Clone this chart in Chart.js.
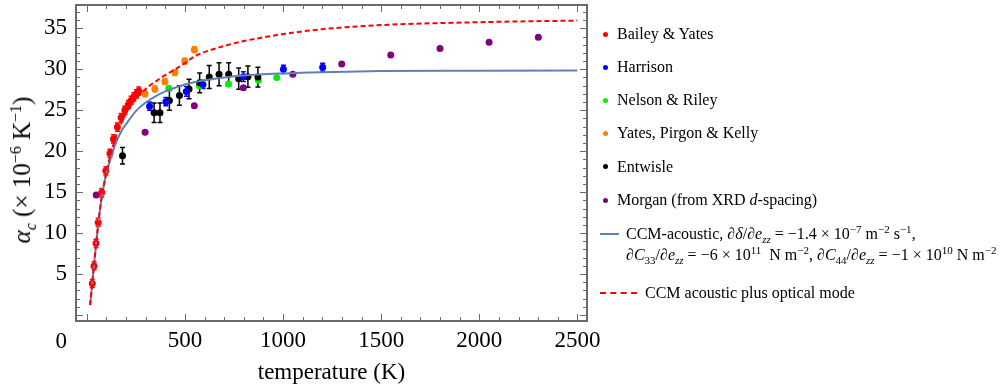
<!DOCTYPE html>
<html>
<head>
<meta charset="utf-8">
<script src="https://cdn.jsdelivr.net/npm/chart.js@4"></script>
<style>
body{margin:0;background:#fff;}
#wrap{position:relative;width:1006px;height:391px;font-family:"Liberation Serif","Times New Roman",serif;color:#000;}
#chart{position:absolute;left:0;top:0;}
.leg{position:absolute;font-size:16px;line-height:20px;white-space:nowrap;}
.dot{position:absolute;width:5px;height:5px;border-radius:50%;}
.ln{position:absolute;height:0;}
sup,sub{font-size:11px;line-height:0;}
#ytitle{position:absolute;left:22px;top:170px;font-size:25px;white-space:nowrap;transform:translate(-50%,-50%) rotate(-90deg);}
#ytitle sup,#ytitle sub{font-size:16px;}
</style>
</head>
<body>
<div id="wrap">
<canvas id="chart" width="1006" height="391"></canvas>
<div id="ytitle"><i>α</i><sub><i>c</i></sub> (× 10<sup>−6</sup> K<sup>−1</sup>)</div>

<div class="dot" style="left:603px;top:32px;background:#ff0000"></div>
<div class="leg" style="left:617px;top:24px">Bailey &amp; Yates</div>
<div class="dot" style="left:603px;top:65px;background:#0000ff"></div>
<div class="leg" style="left:617px;top:57px">Harrison</div>
<div class="dot" style="left:603px;top:98px;background:#00ee00"></div>
<div class="leg" style="left:617px;top:90px">Nelson &amp; Riley</div>
<div class="dot" style="left:603px;top:131px;background:#ff8000"></div>
<div class="leg" style="left:617px;top:123px">Yates, Pirgon &amp; Kelly</div>
<div class="dot" style="left:603px;top:164px;background:#000000"></div>
<div class="leg" style="left:617px;top:157px">Entwisle</div>
<div class="dot" style="left:603px;top:198px;background:#800080"></div>
<div class="leg" style="left:617px;top:190px">Morgan (from XRD <i>d</i>-spacing)</div>

<div class="ln" style="left:600px;top:233px;width:19px;border-top:2px solid #5e81b5"></div>
<div class="leg" style="left:626px;top:224px">CCM-acoustic, <i>∂δ</i>/<i>∂e</i><sub><i>zz</i></sub> = −1.4 × 10<sup>−7</sup> m<sup>−2</sup> s<sup>−1</sup>,</div>
<div class="leg" style="left:626px;top:245px"><i>∂C</i><sub>33</sub>/<i>∂e</i><sub><i>zz</i></sub> = −6 × 10<sup>11</sup>&nbsp; N m<sup>−2</sup>, <i>∂C</i><sub>44</sub>/<i>∂e</i><sub><i>zz</i></sub> = −1 × 10<sup>10</sup> N m<sup>−2</sup></div>
<div class="ln" style="left:600px;top:292px;width:37px;border-top:2px dashed #ff0000"></div>
<div class="leg" style="left:645px;top:283px">CCM acoustic plus optical mode</div>
</div>

<script>
// Bailey & Yates
var byT = [28, 37, 47, 58, 76, 97, 118, 136, 156, 175, 194, 212, 226, 240, 253, 265];
var byV = [3.85, 6.0, 8.75, 11.3, 14.95, 17.6, 19.75, 21.5, 22.95, 24.1, 25.0, 25.7, 26.2, 26.65, 27.0, 27.35];
var byE = [0.5, 0.5, 0.5, 0.5, 0.5, 0.5, 0.5, 0.5, 0.5, 0.5, 0.5, 0.5, 0.5, 0.5, 0.5, 0.5];
// Harrison
var haT = [320, 403, 507, 592, 798, 1002, 1202];
var haV = [25.5, 26.05, 27.3, 28.15, 29.1, 30.0, 30.25];
var haE = [0.5, 0.5, 0.6, 0.5, 0.6, 0.5, 0.5];
// Nelson & Riley
var nrT = [418, 574, 722, 874, 968];
var nrV = [27.7, 28.0, 28.2, 28.65, 29.0];
// Yates, Pirgon & Kelly
var ypT = [297, 347, 398, 449, 499, 548];
var ypV = [27.0, 27.6, 28.5, 29.6, 31.0, 32.4];
var ypE = [0.35, 0.35, 0.35, 0.35, 0.35, 0.35];
// Entwisle
var enT = [182, 343, 373, 421, 472, 521, 575, 624, 674, 723, 774, 821, 872];
var enV = [19.45, 24.7, 24.7, 26.2, 26.8, 27.6, 28.35, 29.05, 29.4, 29.4, 28.85, 29.1, 29.05];
var enE = [1.0, 1.2, 1.2, 1.2, 1.2, 1.2, 1.2, 1.4, 1.4, 1.4, 1.3, 1.3, 1.2];
// Morgan (XRD)
var moT = [48, 297, 548, 798, 1050, 1299, 1549, 1800, 2050, 2301];
var moV = [14.65, 22.3, 25.55, 27.75, 29.4, 30.65, 31.75, 32.55, 33.3, 33.9];
// model curves
var ccmT = [17, 25, 35, 45, 55, 70, 85, 100, 125, 150, 175, 200, 250, 300, 350, 400, 450, 500, 600, 700, 800, 1000, 1200, 1500, 2000, 2500];
var ccmA = [1.2, 3.2, 5.6, 8.1, 10.4, 13.4, 15.6, 17.3, 19.4, 21.1, 22.4, 23.3, 24.9, 25.95, 26.7, 27.3, 27.75, 28.15, 28.65, 29.0, 29.25, 29.5, 29.65, 29.78, 29.83, 29.86];
var optT = [17, 25, 35, 45, 55, 70, 85, 100, 125, 150, 175, 200, 250, 300, 350, 400, 450, 500, 550, 600, 700, 800, 900, 1000, 1200, 1500, 2000, 2500];
var optA = [1.2, 3.2, 5.6, 8.1, 10.4, 13.4, 15.6, 17.4, 19.9, 21.9, 23.4, 24.6, 26.4, 27.6, 28.5, 29.3, 30.0, 30.75, 31.6, 32.1, 32.85, 33.45, 33.9, 34.3, 34.9, 35.4, 35.75, 35.95];

var xTicks = [0, 500, 1000, 1500, 2000, 2500];
var yTicks = [0, 5, 10, 15, 20, 25, 30, 35];

function pts(xs, ys) {
  var out = [];
  for (var i in xs) out.push({x: xs[i], y: ys[i]});
  return out;
}

var serif = '"Liberation Serif", "Times New Roman", serif';

var errorBars = {
  id: 'errorBars',
  beforeDatasetsDraw: function(chart) {
    var ctx = chart.ctx, xs = chart.scales.x, ys = chart.scales.y;
    chart.data.datasets.forEach(function(ds) {
      if (!ds.errors) return;
      ctx.save();
      ctx.strokeStyle = ds.backgroundColor;
      ctx.lineWidth = 1.5;
      ds.data.forEach(function(p, j) {
        var e = ds.errors[j];
        var px = xs.getPixelForValue(p.x);
        var y1 = ys.getPixelForValue(p.y - e), y2 = ys.getPixelForValue(p.y + e);
        ctx.beginPath();
        ctx.moveTo(px, y1); ctx.lineTo(px, y2);
        ctx.moveTo(px - 2.5, y1); ctx.lineTo(px + 2.5, y1);
        ctx.moveTo(px - 2.5, y2); ctx.lineTo(px + 2.5, y2);
        ctx.stroke();
      });
      ctx.restore();
    });
  }
};

var frameTicks = {
  id: 'frameTicks',
  afterDraw: function(chart) {
    var ctx = chart.ctx, a = chart.chartArea, xs = chart.scales.x, ys = chart.scales.y;
    ctx.save();
    ctx.strokeStyle = '#6a6a6a';
    ctx.lineWidth = 1;
    ctx.beginPath();
    for (var t = 0; t <= 2500; t += 100) {
      var px = Math.round(xs.getPixelForValue(t)) + 0.5;
      var len = t % 500 === 0 ? 7 : 4;
      ctx.moveTo(px, a.bottom); ctx.lineTo(px, a.bottom - len);
      ctx.moveTo(px, a.top); ctx.lineTo(px, a.top + len);
    }
    for (var v = 0; v <= 37; v++) {
      var py = Math.round(ys.getPixelForValue(v)) + 0.5;
      var l2 = v % 5 === 0 ? 7 : 4;
      ctx.moveTo(a.left, py); ctx.lineTo(a.left + l2, py);
      ctx.moveTo(a.right, py); ctx.lineTo(a.right - l2, py);
    }
    ctx.stroke();
    ctx.lineWidth = 2;
    ctx.strokeRect(a.left, a.top, a.right - a.left, a.bottom - a.top);
    // shared origin label in the corner
    ctx.fillStyle = '#000';
    ctx.font = '23px ' + serif;
    ctx.textAlign = 'right';
    ctx.textBaseline = 'alphabetic';
    ctx.fillText('0', a.left - 9, 348);
    ctx.restore();
  }
};

var chartData = {
  datasets: [
    {label: 'CCM acoustic plus optical mode', data: pts(optT, optA), showLine: true, pointRadius: 0,
     borderColor: '#ff0000', borderWidth: 2, borderDash: [5, 3], cubicInterpolationMode: 'monotone', order: 0},
    {label: 'CCM-acoustic', data: pts(ccmT, ccmA), showLine: true, pointRadius: 0,
     borderColor: '#5e81b5', borderWidth: 2, cubicInterpolationMode: 'monotone', order: 1},
    {label: 'Bailey & Yates', data: pts(byT, byV), errors: byE, backgroundColor: '#ff0000', order: 2},
    {label: 'Yates, Pirgon & Kelly', data: pts(ypT, ypV), errors: ypE, backgroundColor: '#ff8000', order: 3},
    {label: 'Harrison', data: pts(haT, haV), errors: haE, backgroundColor: '#0000ff', order: 4},
    {label: 'Entwisle', data: pts(enT, enV), errors: enE, backgroundColor: '#000000', order: 5},
    {label: 'Nelson & Riley', data: pts(nrT, nrV), backgroundColor: '#00ee00', order: 6},
    {label: 'Morgan (from XRD d-spacing)', data: pts(moT, moV), backgroundColor: '#800080', order: 7}
  ]
};

new Chart(document.getElementById('chart'), {
  type: 'scatter',
  data: chartData,
  options: {
    responsive: false,
    animation: false,
    devicePixelRatio: 1,
    layout: {padding: {left: 0, right: 419, top: 5, bottom: 0}},
    elements: {point: {radius: 3.5, borderWidth: 0, hoverRadius: 3.5}},
    plugins: {legend: {display: false}, tooltip: {enabled: false}},
    scales: {
      x: {
        type: 'linear', min: -55, max: 2549,
        afterBuildTicks: function(s) { s.ticks = xTicks.map(function(v) { return {value: v}; }); },
        afterFit: function(s) { s.height = 70; s.paddingLeft = 0; s.paddingRight = 0; },
        grid: {display: false, drawTicks: false},
        border: {display: false},
        ticks: {padding: 6, color: '#000', font: {family: serif, size: 23}, maxRotation: 0,
                callback: function(v) { return v === 0 ? '' : String(v); }},
        title: {display: true, text: 'temperature (K)', color: '#000', font: {family: serif, size: 23},
                padding: {top: 0, bottom: 4}}
      },
      y: {
        type: 'linear', min: -0.73, max: 37.85,
        afterBuildTicks: function(s) { s.ticks = yTicks.map(function(v) { return {value: v}; }); },
        afterFit: function(s) { s.width = 76; s.paddingTop = 0; s.paddingBottom = 0; },
        grid: {display: false, drawTicks: false},
        border: {display: false},
        ticks: {padding: 9, color: '#000', font: {family: serif, size: 23},
                callback: function(v) { return v === 0 ? '' : String(v); }}
      }
    }
  },
  plugins: [errorBars, frameTicks]
});
</script>
</body>
</html>
